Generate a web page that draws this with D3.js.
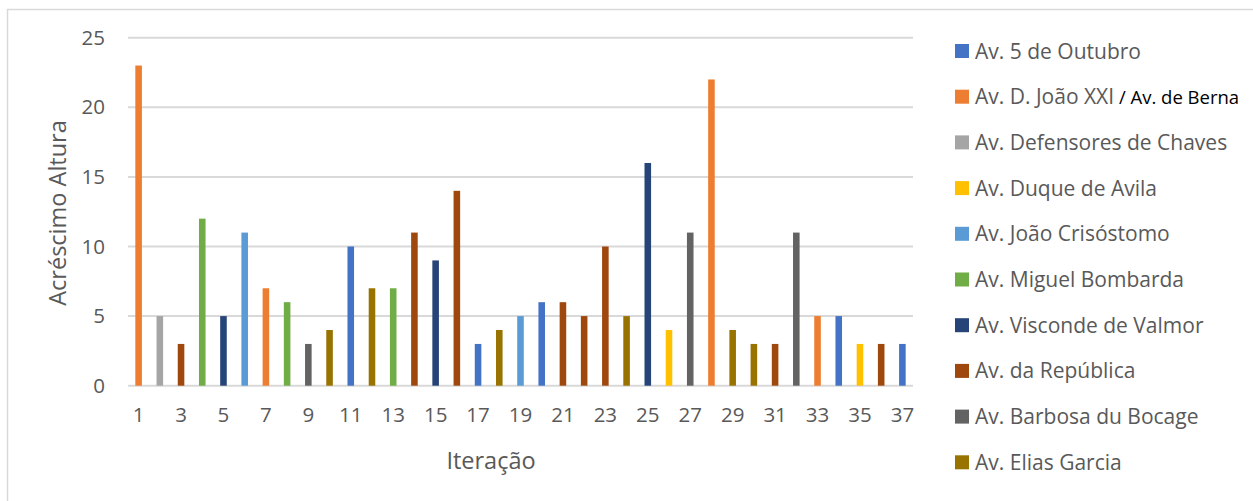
<!DOCTYPE html>
<html>
<head>
<meta charset="utf-8">
<script src="https://cdn.jsdelivr.net/npm/d3@7"></script>
<style>
  html, body { margin: 0; padding: 0; background: #fff; }
  svg { display: block; font-family: "Open Sans", "Noto Sans", sans-serif; }
</style>
</head>
<body>
<svg id="chart" width="1253" height="501"></svg>
<script>
// Streets (series) and their colours
const streets = [
  "Av. 5 de Outubro",
  "Av. D. João XXI",
  "Av. Defensores de Chaves",
  "Av. Duque de Avila",
  "Av. João Crisóstomo",
  "Av. Miguel Bombarda",
  "Av. Visconde de Valmor",
  "Av. da República",
  "Av. Barbosa du Bocage",
  "Av. Elias Garcia"
];
const streetColors = [
  "#4472C4", "#ED7D31", "#A5A5A5", "#FFC000", "#5B9BD5",
  "#70AD47", "#264478", "#9E480E", "#636363", "#997300"
];

// Iterations 1..37
const iterations = d3.range(1, 38);
// Street (index into streets) chosen at each iteration
const iterationStreet = [
  1, 2, 7, 5, 6, 4, 1, 5, 8, 9,
  0, 9, 5, 7, 6, 7, 0, 9, 4, 0,
  7, 7, 7, 9, 6, 3, 8, 1, 9, 9,
  7, 8, 1, 0, 3, 7, 0
];
// Height increase at each iteration
const heightIncrease = [
  23, 5, 3, 12, 5, 11, 7, 6, 3, 4,
  10, 7, 7, 11, 9, 14, 3, 4, 5, 6,
  6, 5, 10, 5, 16, 4, 11, 22, 4, 3,
  3, 11, 5, 5, 3, 3, 3
];
const yTicks = [0, 5, 10, 15, 20, 25];
const xTickLabels = iterations.filter(d => d % 2 === 1);

const svg = d3.select("#chart");
const textColor = "#595959";
const gridColor = "#D9D9D9";

// Outer chart border
svg.append("rect")
  .attr("x", 7.5).attr("y", 9.5)
  .attr("width", 1260).attr("height", 500)
  .attr("fill", "#fff")
  .attr("stroke", gridColor).attr("stroke-width", 1.5);

const plot = { left: 128, right: 913, top: 37.7, bottom: 385.7 };

const x = d3.scaleBand()
  .domain(iterations)
  .range([plot.left, plot.right])
  .paddingInner(0).paddingOuter(0);

const y = d3.scaleLinear()
  .domain([0, 25])
  .range([plot.bottom, plot.top]);

// Horizontal gridlines
svg.append("g")
  .selectAll("line")
  .data(yTicks)
  .join("line")
  .attr("x1", plot.left).attr("x2", plot.right)
  .attr("y1", d => y(d)).attr("y2", d => y(d))
  .attr("stroke", gridColor).attr("stroke-width", 2);

// Y axis labels
const yAxis = d3.axisLeft(y).tickValues(yTicks).tickSize(0).tickPadding(0);
svg.append("g")
  .attr("transform", `translate(${plot.left - 23},0)`)
  .call(yAxis)
  .call(g => g.select(".domain").remove())
  .call(g => g.selectAll("text")
    .attr("fill", textColor)
    .attr("font-size", 20.5)
    .attr("font-family", "Open Sans, Noto Sans, sans-serif"));

// X axis labels (odd iterations)
const xAxis = d3.axisBottom(x).tickValues(xTickLabels).tickSize(0).tickPadding(0);
svg.append("g")
  .attr("transform", `translate(0,${plot.bottom + 22})`)
  .call(xAxis)
  .call(g => g.select(".domain").remove())
  .call(g => g.selectAll("text")
    .attr("fill", textColor)
    .attr("font-size", 20.5)
    .attr("font-family", "Open Sans, Noto Sans, sans-serif"));

// Bars
const barW = x.bandwidth() * 0.31;
svg.append("g")
  .selectAll("rect")
  .data(iterations)
  .join("rect")
  .attr("x", (d, i) => x(d) + (x.bandwidth() - barW) / 2)
  .attr("y", (d, i) => y(heightIncrease[i]))
  .attr("width", barW)
  .attr("height", (d, i) => y(0) - y(heightIncrease[i]))
  .attr("fill", (d, i) => streetColors[iterationStreet[i]]);

// Axis titles
svg.append("text")
  .attr("transform", "translate(66,213) rotate(-90)")
  .attr("text-anchor", "middle")
  .attr("fill", textColor)
  .attr("font-size", 23.5)
  .text("Acréscimo Altura");

svg.append("text")
  .attr("x", 491).attr("y", 469)
  .attr("text-anchor", "middle")
  .attr("fill", textColor)
  .attr("font-size", 23.5)
  .text("Iteração");

// Legend
const legendTop = 51, legendStep = 45.7;
const legend = svg.append("g");
const rows = legend.selectAll("g")
  .data(streets)
  .join("g")
  .attr("transform", (d, i) => `translate(955,${legendTop + i * legendStep})`);
rows.append("rect")
  .attr("x", 0).attr("y", -7)
  .attr("width", 14).attr("height", 14)
  .attr("fill", (d, i) => streetColors[i]);
rows.append("text")
  .attr("x", 20).attr("y", 7.5)
  .attr("fill", textColor)
  .attr("font-size", 21)
  .each(function (d, i) {
    const t = d3.select(this);
    t.append("tspan").text(d);
    if (i === 1) {
      t.append("tspan").attr("fill", "#000").attr("font-size", 18.5).text(" / Av. de Berna");
    }
  });
</script>
</body>
</html>
